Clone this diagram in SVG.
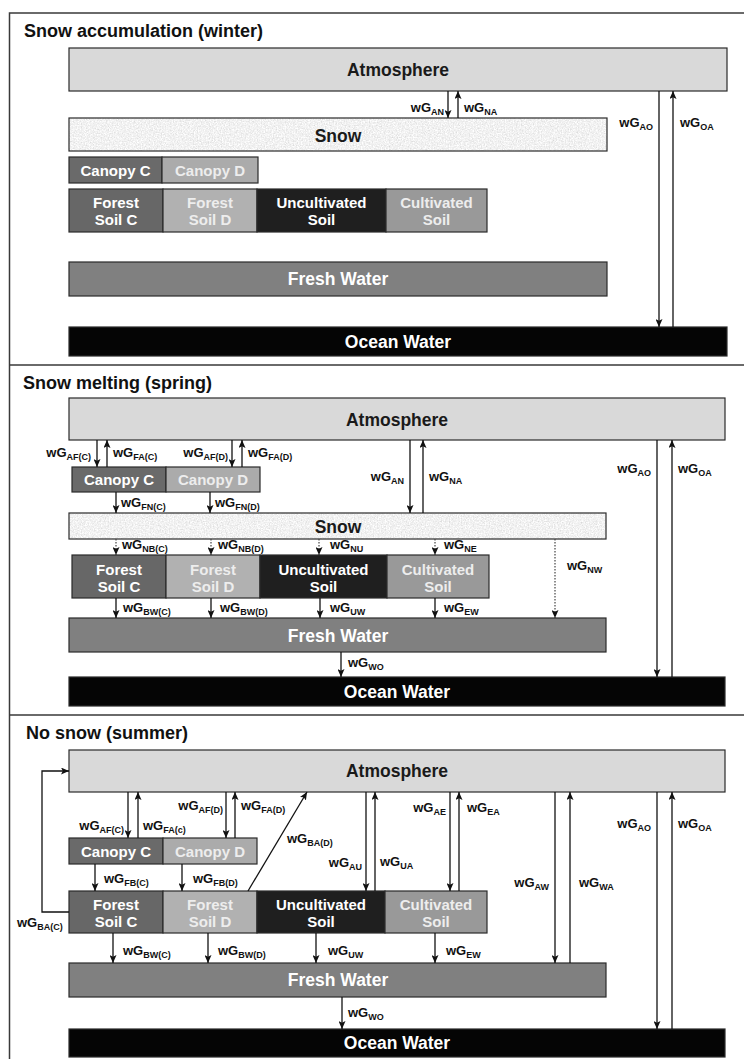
<svg xmlns="http://www.w3.org/2000/svg" width="744" height="1059" viewBox="0 0 744 1059">
<defs>
<style>
.frame{stroke:#3a3a3a;stroke-width:1.5;fill:none}
.box{stroke:#2a2a2a;stroke-width:1.2}
.atm{fill:#d9d9d9}
.snow{fill:#e8e8e8}
.cc{fill:#6a6a6a}
.cd{fill:#ababab}
.fsc{fill:#676767}
.fsd{fill:#b1b1b1}
.unc{fill:#1f1f1f}
.cul{fill:#999999}
.fw{fill:#808080}
.ow{fill:#050505}
text{font-family:"Liberation Sans",Arial,sans-serif;font-weight:bold}
.title{font-size:18px;fill:#111}
.big{font-size:17.5px;text-anchor:middle}
.mid{font-size:15px;text-anchor:middle}
.dk{fill:#1a1a1a}
.wt{fill:#ffffff}
.lt{fill:#ededed}
.lab{font-size:13px;fill:#111}
.end{text-anchor:end}
.sub{font-size:9px}
.arr{stroke:#111;stroke-width:1.3;fill:none;marker-end:url(#ah)}
.dot{stroke:#444;stroke-width:1.2;fill:none;stroke-dasharray:1.5 1.5;marker-end:url(#ah)}
</style>
<marker id="ah" viewBox="0 0 8 7" refX="8" refY="3.5" markerWidth="8" markerHeight="7" orient="auto" markerUnits="userSpaceOnUse">
<path d="M0,0 L8,3.5 L0,7 L1.8,3.5 z" fill="#111"/>
</marker>
<filter id="snowtex" x="0" y="0" width="100%" height="100%">
<feTurbulence type="fractalNoise" baseFrequency="0.75" numOctaves="2" seed="7" result="n"/>
<feColorMatrix in="n" type="saturate" values="0" result="g"/>
<feComponentTransfer in="g" result="c">
<feFuncR type="linear" slope="0.65" intercept="0.56"/>
<feFuncG type="linear" slope="0.65" intercept="0.56"/>
<feFuncB type="linear" slope="0.65" intercept="0.56"/>
<feFuncA type="linear" slope="0" intercept="1"/>
</feComponentTransfer>
<feComposite in="c" in2="SourceGraphic" operator="in"/>
</filter>
</defs>
<rect x="0" y="0" width="744" height="1059" fill="#ffffff"/>

<g id="frame">
<path class="frame" d="M9.5,1059 V13 H744 M9.5,365 H744 M9.5,715 H744"/>
</g>

<!-- ============ Panel 1 ============ -->
<g id="panel1-title"><text class="title" x="24" y="37">Snow accumulation (winter)</text></g>
<g id="p1-atmosphere"><rect class="box atm" x="69" y="48" width="658" height="43"/><text class="big dk" x="398" y="76">Atmosphere</text></g>
<g id="p1-snow"><rect class="snow" x="69" y="118" width="538" height="33" filter="url(#snowtex)"/><rect class="box" fill="none" x="69" y="118" width="538" height="33"/><text class="big dk" x="338" y="141.5">Snow</text></g>
<g id="p1-canopyC"><rect class="box cc" x="69" y="157" width="93" height="26"/><text class="mid wt" x="115.5" y="175.5">Canopy C</text></g>
<g id="p1-canopyD"><rect class="box cd" x="162" y="157" width="96" height="26"/><text class="mid lt" x="210" y="175.5">Canopy D</text></g>
<g id="p1-forestsoilC"><rect class="box fsc" x="69" y="189" width="94" height="43"/><text class="mid wt" x="116" y="207.5">Forest</text><text class="mid wt" x="116" y="225">Soil C</text></g>
<g id="p1-forestsoilD"><rect class="box fsd" x="163" y="189" width="94" height="43"/><text class="mid lt" x="210" y="207.5">Forest</text><text class="mid lt" x="210" y="225">Soil D</text></g>
<g id="p1-uncultivated"><rect class="box unc" x="257" y="189" width="129" height="43"/><text class="mid wt" x="321.5" y="207.5">Uncultivated</text><text class="mid wt" x="321.5" y="225">Soil</text></g>
<g id="p1-cultivated"><rect class="box cul" x="386" y="189" width="101" height="43"/><text class="mid lt" x="436.5" y="207.5">Cultivated</text><text class="mid lt" x="436.5" y="225">Soil</text></g>
<g id="p1-freshwater"><rect class="box fw" x="69" y="262" width="538" height="34"/><text class="big wt" x="338" y="285">Fresh Water</text></g>
<g id="p1-ocean"><rect class="box ow" x="69" y="327" width="658" height="29"/><text class="big wt" x="398" y="347.5">Ocean Water</text></g>

<!-- ============ Panel 2 ============ -->
<g id="panel2-title"><text class="title" x="23" y="389">Snow melting (spring)</text></g>
<g id="p2-atmosphere"><rect class="box atm" x="69" y="398" width="656" height="42"/><text class="big dk" x="397" y="426">Atmosphere</text></g>
<g id="p2-canopyC"><rect class="box cc" x="72" y="467" width="94" height="25"/><text class="mid wt" x="119" y="485">Canopy C</text></g>
<g id="p2-canopyD"><rect class="box cd" x="166" y="467" width="94" height="25"/><text class="mid lt" x="213" y="485">Canopy D</text></g>
<g id="p2-snow"><rect class="snow" x="69" y="513" width="537" height="26" filter="url(#snowtex)"/><rect class="box" fill="none" x="69" y="513" width="537" height="26"/><text class="big dk" x="338" y="533">Snow</text></g>
<g id="p2-forestsoilC"><rect class="box fsc" x="72" y="555" width="94" height="43"/><text class="mid wt" x="119" y="575">Forest</text><text class="mid wt" x="119" y="591.5">Soil C</text></g>
<g id="p2-forestsoilD"><rect class="box fsd" x="166" y="555" width="94" height="43"/><text class="mid lt" x="213" y="575">Forest</text><text class="mid lt" x="213" y="591.5">Soil D</text></g>
<g id="p2-uncultivated"><rect class="box unc" x="260" y="555" width="127" height="43"/><text class="mid wt" x="323.5" y="575">Uncultivated</text><text class="mid wt" x="323.5" y="591.5">Soil</text></g>
<g id="p2-cultivated"><rect class="box cul" x="387" y="555" width="102" height="43"/><text class="mid lt" x="438" y="575">Cultivated</text><text class="mid lt" x="438" y="591.5">Soil</text></g>
<g id="p2-freshwater"><rect class="box fw" x="69" y="618" width="537" height="34"/><text class="big wt" x="338" y="641.5">Fresh Water</text></g>
<g id="p2-ocean"><rect class="box ow" x="69" y="677" width="656" height="29"/><text class="big wt" x="397" y="697.5">Ocean Water</text></g>

<!-- ============ Panel 3 ============ -->
<g id="panel3-title"><text class="title" x="26" y="739">No snow (summer)</text></g>
<g id="p3-atmosphere"><rect class="box atm" x="69" y="750" width="656" height="42"/><text class="big dk" x="397" y="777">Atmosphere</text></g>
<g id="p3-canopyC"><rect class="box cc" x="69" y="838" width="94" height="26"/><text class="mid wt" x="116" y="856.5">Canopy C</text></g>
<g id="p3-canopyD"><rect class="box cd" x="163" y="838" width="94" height="26"/><text class="mid lt" x="210" y="856.5">Canopy D</text></g>
<g id="p3-forestsoilC"><rect class="box fsc" x="69" y="891" width="94" height="42"/><text class="mid wt" x="116" y="909.5">Forest</text><text class="mid wt" x="116" y="926.5">Soil C</text></g>
<g id="p3-forestsoilD"><rect class="box fsd" x="163" y="891" width="94" height="42"/><text class="mid lt" x="210" y="909.5">Forest</text><text class="mid lt" x="210" y="926.5">Soil D</text></g>
<g id="p3-uncultivated"><rect class="box unc" x="257" y="891" width="128" height="42"/><text class="mid wt" x="321" y="909.5">Uncultivated</text><text class="mid wt" x="321" y="926.5">Soil</text></g>
<g id="p3-cultivated"><rect class="box cul" x="385" y="891" width="102" height="42"/><text class="mid lt" x="436" y="909.5">Cultivated</text><text class="mid lt" x="436" y="926.5">Soil</text></g>
<g id="p3-freshwater"><rect class="box fw" x="69" y="963" width="537" height="34"/><text class="big wt" x="338" y="985.5">Fresh Water</text></g>
<g id="p3-ocean"><rect class="box ow" x="69" y="1029" width="656" height="28"/><text class="big wt" x="397" y="1048.5">Ocean Water</text></g>

<!-- ============ Connectors ============ -->
<g id="connectors">
<!-- panel 1 -->
<path class="arr" d="M448,91 V118"/>
<path class="arr" d="M458,118 V91"/>
<path class="arr" d="M659,91 V327"/>
<path class="arr" d="M673,327 V91"/>
<!-- panel 2 -->
<path class="arr" d="M97,440 V467"/>
<path class="arr" d="M107,467 V440"/>
<path class="arr" d="M232,440 V467"/>
<path class="arr" d="M242,467 V440"/>
<path class="arr" d="M116,492 V513"/>
<path class="arr" d="M210,492 V513"/>
<path class="arr" d="M410,440 V513"/>
<path class="arr" d="M423,513 V440"/>
<path class="arr" d="M657,440 V677"/>
<path class="arr" d="M672,677 V440"/>
<path class="dot" d="M116,539 V555"/>
<path class="dot" d="M211,539 V555"/>
<path class="dot" d="M319,539 V555"/>
<path class="dot" d="M435,539 V555"/>
<path class="dot" d="M555,539 V618"/>
<path class="arr" d="M116,598 V618"/>
<path class="arr" d="M211,598 V618"/>
<path class="arr" d="M320,598 V618"/>
<path class="arr" d="M435,598 V618"/>
<path class="arr" d="M341,652 V677"/>
<!-- panel 3 -->
<path class="arr" d="M69,912 H42 V771 H69"/>
<path class="arr" d="M128,792 V838"/>
<path class="arr" d="M138,838 V792"/>
<path class="arr" d="M226,792 V838"/>
<path class="arr" d="M235,838 V792"/>
<path class="arr" d="M248,891 L307,792"/>
<path class="arr" d="M95,864 V891"/>
<path class="arr" d="M182,864 V891"/>
<path class="arr" d="M366,792 V891"/>
<path class="arr" d="M375,891 V792"/>
<path class="arr" d="M450,792 V891"/>
<path class="arr" d="M459,891 V792"/>
<path class="arr" d="M555,792 V963"/>
<path class="arr" d="M570,963 V792"/>
<path class="arr" d="M657,792 V1029"/>
<path class="arr" d="M672,1029 V792"/>
<path class="arr" d="M113,933 V963"/>
<path class="arr" d="M208,933 V963"/>
<path class="arr" d="M316,933 V963"/>
<path class="arr" d="M435,933 V963"/>
<path class="arr" d="M342,997 V1029"/>
</g>

<g id="connector-labels">
<!-- panel 1 -->
<text class="lab end" x="444" y="112">wG<tspan class="sub" dy="3">AN</tspan></text>
<text class="lab" x="464" y="112">wG<tspan class="sub" dy="3">NA</tspan></text>
<text class="lab end" x="653" y="127">wG<tspan class="sub" dy="3">AO</tspan></text>
<text class="lab" x="680" y="127">wG<tspan class="sub" dy="3">OA</tspan></text>
<!-- panel 2 -->
<text class="lab end" x="91" y="457">wG<tspan class="sub" dy="3">AF(C)</tspan></text>
<text class="lab" x="113" y="457">wG<tspan class="sub" dy="3">FA(C)</tspan></text>
<text class="lab end" x="228" y="457">wG<tspan class="sub" dy="3">AF(D)</tspan></text>
<text class="lab" x="248" y="457">wG<tspan class="sub" dy="3">FA(D)</tspan></text>
<text class="lab" x="121" y="507">wG<tspan class="sub" dy="3">FN(C)</tspan></text>
<text class="lab" x="215" y="507">wG<tspan class="sub" dy="3">FN(D)</tspan></text>
<text class="lab end" x="404" y="481">wG<tspan class="sub" dy="3">AN</tspan></text>
<text class="lab" x="429" y="481">wG<tspan class="sub" dy="3">NA</tspan></text>
<text class="lab end" x="651" y="473">wG<tspan class="sub" dy="3">AO</tspan></text>
<text class="lab" x="678" y="473">wG<tspan class="sub" dy="3">OA</tspan></text>
<text class="lab" x="122" y="549">wG<tspan class="sub" dy="3">NB(C)</tspan></text>
<text class="lab" x="218" y="549">wG<tspan class="sub" dy="3">NB(D)</tspan></text>
<text class="lab" x="330" y="549">wG<tspan class="sub" dy="3">NU</tspan></text>
<text class="lab" x="444" y="549">wG<tspan class="sub" dy="3">NE</tspan></text>
<text class="lab" x="567" y="570">wG<tspan class="sub" dy="3">NW</tspan></text>
<text class="lab" x="123" y="612">wG<tspan class="sub" dy="3">BW(C)</tspan></text>
<text class="lab" x="220" y="612">wG<tspan class="sub" dy="3">BW(D)</tspan></text>
<text class="lab" x="330" y="612">wG<tspan class="sub" dy="3">UW</tspan></text>
<text class="lab" x="444" y="612">wG<tspan class="sub" dy="3">EW</tspan></text>
<text class="lab" x="348" y="667">wG<tspan class="sub" dy="3">WO</tspan></text>
<!-- panel 3 -->
<text class="lab" x="17" y="927">wG<tspan class="sub" dy="3">BA(C)</tspan></text>
<text class="lab end" x="124" y="830">wG<tspan class="sub" dy="3">AF(C)</tspan></text>
<text class="lab" x="143" y="830">wG<tspan class="sub" dy="3">FA(c)</tspan></text>
<text class="lab end" x="223" y="810">wG<tspan class="sub" dy="3">AF(D)</tspan></text>
<text class="lab" x="241" y="810">wG<tspan class="sub" dy="3">FA(D)</tspan></text>
<text class="lab" x="287" y="843">wG<tspan class="sub" dy="3">BA(D)</tspan></text>
<text class="lab" x="104" y="883">wG<tspan class="sub" dy="3">FB(C)</tspan></text>
<text class="lab" x="193" y="883">wG<tspan class="sub" dy="3">FB(D)</tspan></text>
<text class="lab end" x="362" y="867">wG<tspan class="sub" dy="3">AU</tspan></text>
<text class="lab" x="380" y="866">wG<tspan class="sub" dy="3">UA</tspan></text>
<text class="lab end" x="446" y="812">wG<tspan class="sub" dy="3">AE</tspan></text>
<text class="lab" x="467" y="812">wG<tspan class="sub" dy="3">EA</tspan></text>
<text class="lab end" x="549" y="887">wG<tspan class="sub" dy="3">AW</tspan></text>
<text class="lab" x="579" y="887">wG<tspan class="sub" dy="3">WA</tspan></text>
<text class="lab end" x="651" y="828">wG<tspan class="sub" dy="3">AO</tspan></text>
<text class="lab" x="678" y="828">wG<tspan class="sub" dy="3">OA</tspan></text>
<text class="lab" x="123" y="955">wG<tspan class="sub" dy="3">BW(C)</tspan></text>
<text class="lab" x="218" y="955">wG<tspan class="sub" dy="3">BW(D)</tspan></text>
<text class="lab" x="328" y="955">wG<tspan class="sub" dy="3">UW</tspan></text>
<text class="lab" x="446" y="955">wG<tspan class="sub" dy="3">EW</tspan></text>
<text class="lab" x="348" y="1017">wG<tspan class="sub" dy="3">WO</tspan></text>
</g>
</svg>
